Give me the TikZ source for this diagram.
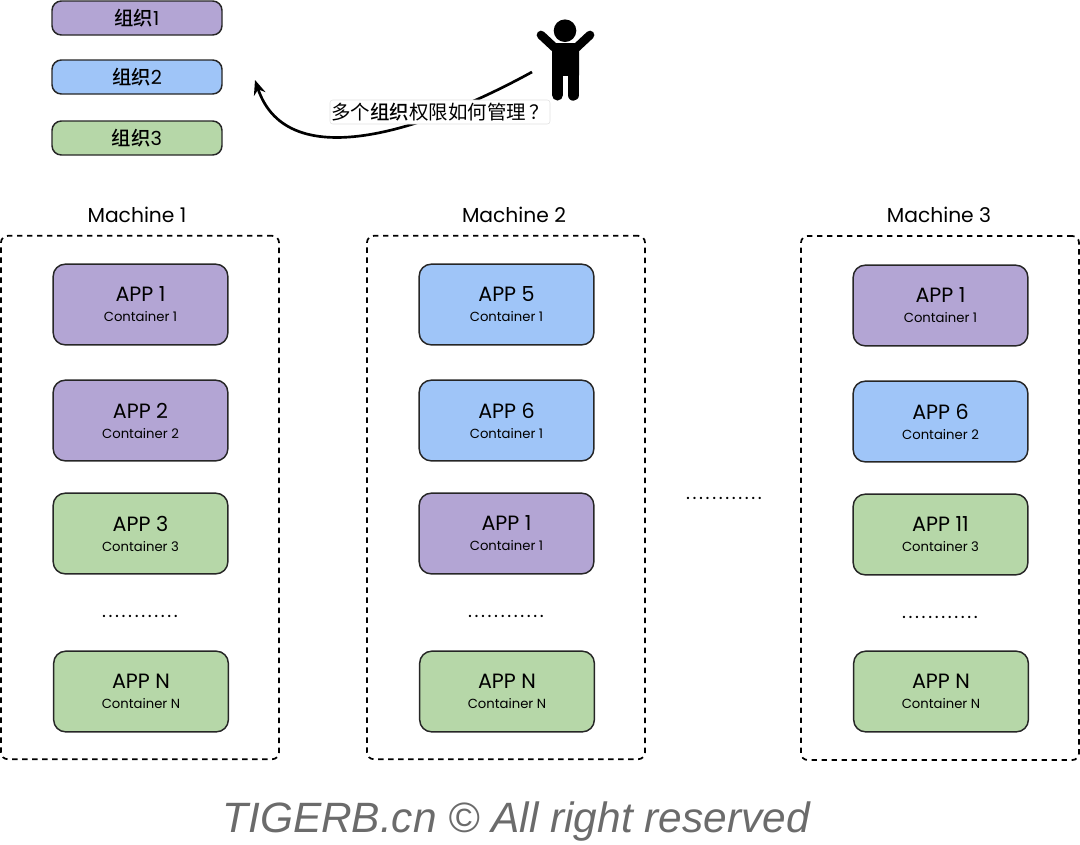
\documentclass[tikz,border=0pt]{standalone}
\usepackage{fontspec}
\setmainfont{Poppins}
\newfontfamily\cjk{Noto Sans CJK SC}
\newfontfamily\cjkm{Noto Sans CJK SC Medium}
\newfontfamily\wm{Liberation Sans}
\usetikzlibrary{arrows.meta}
\definecolor{pur}{HTML}{B3A5D4}
\definecolor{blu}{HTML}{9FC5F8}
\definecolor{gre}{HTML}{B6D7A8}
\definecolor{wmgrey}{HTML}{6B6B6B}
\tikzset{
 x=0.75pt,y=-0.75pt,
 org/.style={draw=black!85,line width=1.1pt,rounded corners=7pt,minimum width=127.5pt,minimum height=25.5pt,inner sep=0pt,font=\cjkm\fontsize{14.5}{15}\selectfont},
 app/.style={draw=black!85,line width=1.1pt,rounded corners=9pt,minimum width=131pt,minimum height=60.5pt,inner sep=0pt,align=center},
 machine/.style={draw=black,line width=1.3pt,dash pattern=on 4pt off 3.5pt,rounded corners=5pt,minimum width=208.5pt,inner sep=0pt},
 mlabel/.style={font=\fontsize{15.2}{17}\selectfont,inner sep=0pt},
 dots/.style={font=\fontsize{14}{14}\selectfont\addfontfeature{LetterSpace=14},inner sep=0pt},
}
\newcommand{\apptext}[2]{{\fontsize{15.5}{18}\selectfont #1}\\[3pt]{\fontsize{9.9}{12}\selectfont #2}}
\newcommand{\orgtext}[1]{\raisebox{1.5pt}{组织{\fontfamily{\rmdefault}\mdseries\selectfont #1}}}
\begin{document}
\begin{tikzpicture}
\useasboundingbox (0,0) rectangle (1080,844);
% organisations
\node[org,fill=pur] (o1) at (137,18) {\orgtext{1}};
\node[org,fill=blu] (o2) at (137,77) {\orgtext{2}};
\node[org,fill=gre] (o3) at (137,138) {\orgtext{3}};
% person
\fill[black] (565,30.7) circle[radius=11.3];
\draw[black,line width=6.5pt,line cap=round] (541,35) -- (556,49);
\draw[black,line width=6.5pt,line cap=round] (590,35) -- (575,49);
\fill[black,rounded corners=2pt] (552,43) -- (579,43) -- (579,78) -- (552,78) -- cycle;
\fill[white] (563.3,76) rectangle (567.5,102);
\draw[black,line width=8.3pt,line cap=round] (557.5,72) -- (557.5,95);
\draw[black,line width=8.6pt,line cap=round] (573.3,72) -- (573.3,95);
\fill[black] (552,70) rectangle (579,75);
% question arrow
\coordinate (askstart) at (532,72);
\coordinate (asktarget) at (255,80);
\draw[line width=2pt,-{Stealth[length=11pt,width=9pt]}] (askstart) .. controls (430,128) and (288,178) .. (asktarget);
\node[draw=black!12,fill=white,rounded corners=2pt,minimum width=165pt,minimum height=18pt,inner sep=0pt,font=\cjk\fontsize{14.6}{16}\selectfont] (ask) at (440,112) {多个{\cjkm 组织}权限如何管理\hspace{2.5pt}？\hspace{-2.5pt}};
% machines
\node[machine,minimum height=392.5pt] (m1) at (140,497.5) {};
\node[machine,minimum height=392.5pt] (m2) at (506,497.5) {};
\node[machine,minimum height=393pt] (m3) at (940,498) {};
\node[mlabel] (l1) at (137,215) {Machine 1};
\node[mlabel] (l2) at (514,215) {Machine 2};
\node[mlabel] (l3) at (939,215) {Machine 3};
% machine 1
\node[app,fill=pur] (a11) at (140.5,304.5) {\apptext{APP 1}{Container 1}};
\node[app,fill=pur] (a12) at (140.5,420.5) {\apptext{APP 2}{Container 2}};
\node[app,fill=gre] (a13) at (140.5,533.5) {\apptext{APP 3}{Container 3}};
\node[dots] (d1) at (140,616) {............};
\node[app,fill=gre] (a14) at (141,691.5) {\apptext{APP N}{Container N}};
% machine 2
\node[app,fill=blu] (a21) at (506.5,304.5) {\apptext{APP 5}{Container 1}};
\node[app,fill=blu] (a22) at (506.5,420.5) {\apptext{APP 6}{Container 1}};
\node[app,fill=pur] (a23) at (506.5,533.5) {\apptext{APP 1}{Container 1}};
\node[dots] (d2) at (506,616) {............};
\node[app,fill=gre] (a24) at (507,691.5) {\apptext{APP N}{Container N}};
% machine 3
\node[app,fill=pur] (a31) at (940.5,305.5) {\apptext{APP 1}{Container 1}};
\node[app,fill=blu] (a32) at (940.5,421.5) {\apptext{APP 6}{Container 2}};
\node[app,fill=gre] (a33) at (940.5,534.5) {\apptext{APP 11}{Container 3}};
\node[dots] (d3) at (940,617) {............};
\node[app,fill=gre] (a34) at (941,691.5) {\apptext{APP N}{Container N}};
% between machines
\node[dots] (d4) at (724,498) {............};
% watermark
\node[inner sep=0pt,text=wmgrey,font=\wm\itshape\fontsize{31.8}{34}\selectfont] (wm) at (516,822) {TIGERB.cn © All right reserved};
\end{tikzpicture}
\end{document}
